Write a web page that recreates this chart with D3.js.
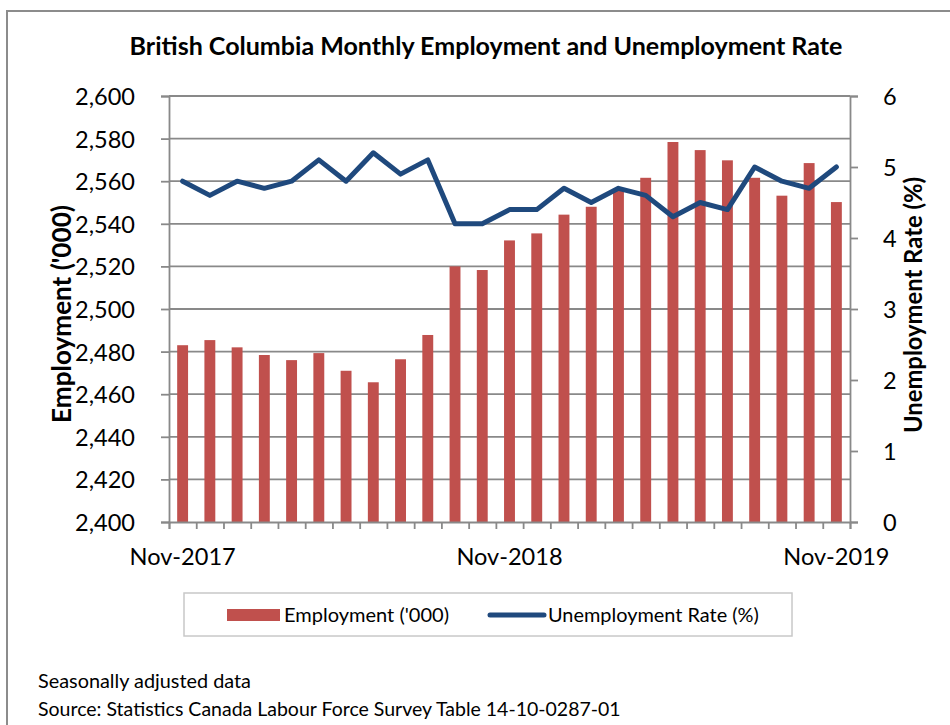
<!DOCTYPE html>
<html>
<head>
<meta charset="utf-8">
<script src="https://cdn.jsdelivr.net/npm/d3@7"></script>
<style>
  html, body { margin: 0; padding: 0; background: #fff; }
  svg { display: block; }
  text { font-family: Lato, "Open Sans", sans-serif; fill: #000; }
</style>
</head>
<body>
<svg id="chart" width="950" height="725"></svg>
<script>
const months = ["Nov-2017","Dec-2017","Jan-2018","Feb-2018","Mar-2018","Apr-2018","May-2018","Jun-2018","Jul-2018","Aug-2018","Sep-2018","Oct-2018",
  "Nov-2018","Dec-2018","Jan-2019","Feb-2019","Mar-2019","Apr-2019","May-2019","Jun-2019","Jul-2019","Aug-2019","Sep-2019","Oct-2019","Nov-2019"];
const employment = [2483.0, 2485.4, 2482.0, 2478.4, 2476.0, 2479.3, 2471.0, 2465.6, 2476.4, 2487.8, 2520.0, 2518.3,
  2532.2, 2535.5, 2544.3, 2548.0, 2556.0, 2561.6, 2578.4, 2574.6, 2569.8, 2561.6, 2553.2, 2568.5, 2550.2];
const unemployment = [4.8, 4.6, 4.8, 4.7, 4.8, 5.1, 4.8, 5.2, 4.9, 5.1, 4.2, 4.2,
  4.4, 4.4, 4.7, 4.5, 4.7, 4.6, 4.3, 4.5, 4.4, 5.0, 4.8, 4.7, 5.0];
const leftTicks = [2400, 2420, 2440, 2460, 2480, 2500, 2520, 2540, 2560, 2580, 2600];
const rightTicks = [0, 1, 2, 3, 4, 5, 6];
const xTickLabels = ["Nov-2017", "Nov-2018", "Nov-2019"];
const titleText = "British Columbia Monthly Employment and Unemployment Rate";
const leftTitle = "Employment ('000)";
const rightTitle = "Unemployment Rate (%)";
const seriesNames = ["Employment ('000)", "Unemployment Rate (%)"];
const notes = ["Seasonally adjusted data", "Source: Statistics Canada Labour Force Survey Table 14-10-0287-01"];

const svg = d3.select("#chart");
const W = 950, H = 725;
const plot = { left: 169, right: 850, top: 96, bottom: 522 };
const gridColor = "#898989";
const barColor = "#C0504D";
const lineColor = "#1F497D";

function fit(sel, target) {
  const fs = parseFloat(sel.attr("font-size"));
  const len = sel.node().getComputedTextLength();
  sel.attr("font-size", (fs * target / len).toFixed(2));
  return sel;
}

svg.append("rect").attr("width", W).attr("height", H).attr("fill", "#fff");
// outer chart border (continues beyond the photographed area)
svg.append("rect").attr("x", 7).attr("y", 11).attr("width", 980).attr("height", 760)
  .attr("fill", "none").attr("stroke", "#8c8c8c").attr("stroke-width", 2);

// title
const t = svg.append("text").attr("x", 486).attr("y", 55).attr("text-anchor", "middle")
  .attr("font-weight", "bold").attr("font-size", 22).text(titleText);
fit(t, 713);

const x = d3.scaleBand().domain(months).range([plot.left, plot.right]).paddingInner(0.6).paddingOuter(0.3);
const xIdx = d3.scaleLinear().domain([0, months.length]).range([plot.left, plot.right]);
const yL = d3.scaleLinear().domain([2400, 2600]).range([plot.bottom, plot.top]);
const yR = d3.scaleLinear().domain([0, 6]).range([plot.bottom, plot.top]);

// gridlines
svg.append("g").selectAll("line").data(leftTicks.filter(d => d !== 2400)).join("line")
  .attr("x1", plot.left).attr("x2", plot.right)
  .attr("y1", d => yL(d)).attr("y2", d => yL(d))
  .attr("stroke", gridColor).attr("stroke-width", 1.8);

// bars
svg.append("g").selectAll("rect").data(months).join("rect")
  .attr("x", d => x(d)).attr("width", x.bandwidth())
  .attr("y", (d, i) => yL(employment[i]))
  .attr("height", (d, i) => plot.bottom - yL(employment[i]))
  .attr("fill", barColor);

// axes
const tickFS = 24;
const gL = svg.append("g").attr("transform", `translate(${plot.left},0)`)
  .call(d3.axisLeft(yL).tickValues(leftTicks).tickSize(8).tickPadding(26).tickFormat(d3.format(",")));
const gR = svg.append("g").attr("transform", `translate(${plot.right},0)`)
  .call(d3.axisRight(yR).tickValues(rightTicks).tickSize(8).tickPadding(25).tickFormat(d3.format("d")));
const gB = svg.append("g").attr("transform", `translate(0,${plot.bottom})`)
  .call(d3.axisBottom(xIdx).tickValues(d3.range(months.length + 1)).tickSize(7).tickFormat(""));
[gL, gR, gB].forEach(g => {
  g.select(".domain").attr("stroke", gridColor).attr("stroke-width", 1.8);
  g.selectAll(".tick line").attr("stroke", gridColor).attr("stroke-width", 1.8);
  g.selectAll("text").attr("font-family", "Lato, 'Open Sans', sans-serif").attr("fill", "#000");
});
// fit tick font from one label
const probe = gL.selectAll(".tick text").filter(d => d === 2600).attr("font-size", tickFS);
probe.attr("font-size", tickFS);
const lenProbe = probe.node().getComputedTextLength();
const tfs = tickFS * 60 / lenProbe;
gL.selectAll(".tick text").attr("font-size", tfs).attr("dy", "0.36em");
gR.selectAll(".tick text").attr("font-size", tfs).attr("dy", "0.36em");

// bottom category labels
svg.append("g").selectAll("text").data(xTickLabels).join("text")
  .attr("x", d => x(d) + x.bandwidth() / 2).attr("y", 565)
  .attr("text-anchor", "middle").attr("font-size", tfs).text(d => d);

// unemployment line
const line = d3.line().x((d, i) => x(months[i]) + x.bandwidth() / 2).y(d => yR(d));
svg.append("path").datum(unemployment).attr("d", line)
  .attr("fill", "none").attr("stroke", lineColor).attr("stroke-width", 5)
  .attr("stroke-linejoin", "round").attr("stroke-linecap", "round");

// axis titles
const lt = svg.append("text").attr("transform", "translate(62,314) rotate(-90)")
  .attr("text-anchor", "middle").attr("dy", "0.36em").attr("font-weight", "bold").attr("font-size", 24).text(leftTitle);
fit(lt, 218);
const rt = svg.append("text").attr("transform", "translate(913,305) rotate(-90)")
  .attr("text-anchor", "middle").attr("dy", "0.36em").attr("font-weight", "bold").attr("font-size", 24).text(rightTitle);
fit(rt, 256);

// legend
const lg = svg.append("g");
lg.append("rect").attr("x", 184).attr("y", 593).attr("width", 608).attr("height", 43)
  .attr("fill", "#fff").attr("stroke", "#c8c8c8").attr("stroke-width", 1.5);
lg.append("rect").attr("x", 227).attr("y", 609).attr("width", 53).attr("height", 12).attr("fill", barColor);
const l1 = lg.append("text").attr("x", 284).attr("y", 615).attr("dy", "0.36em").attr("font-size", 20).text(seriesNames[0]);
fit(l1, 165);
lg.append("line").attr("x1", 490).attr("x2", 544).attr("y1", 615).attr("y2", 615)
  .attr("stroke", lineColor).attr("stroke-width", 5).attr("stroke-linecap", "round");
const l2 = lg.append("text").attr("x", 548).attr("y", 615).attr("dy", "0.36em").attr("font-size", 20).text(seriesNames[1]);
fit(l2, 211);

// footnotes
const n1 = svg.append("text").attr("x", 38).attr("y", 688).attr("font-size", 18).text(notes[0]);
fit(n1, 213);
const n2 = svg.append("text").attr("x", 38).attr("y", 716).attr("font-size", 18).text(notes[1]);
fit(n2, 583);
</script>
</body>
</html>
